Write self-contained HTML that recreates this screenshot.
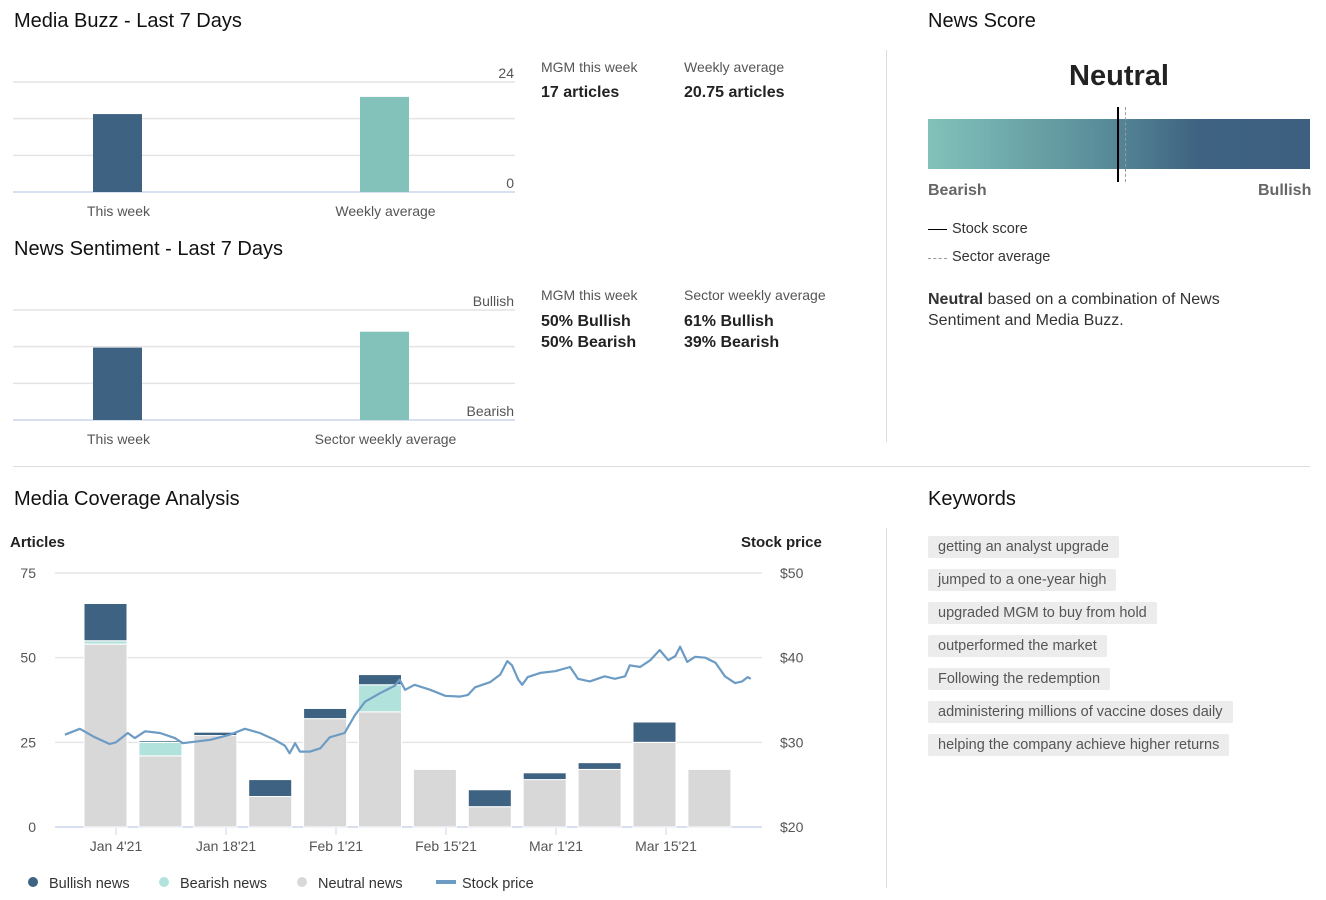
<!DOCTYPE html>
<html><head><meta charset="utf-8">
<style>
body{margin:0;width:1326px;height:900px;background:#fff;font-family:"Liberation Sans",sans-serif;color:#222;position:relative;overflow:hidden}
.a{position:absolute;white-space:nowrap}
h2{position:absolute;margin:0;font-size:20px;font-weight:normal;color:#111}
.lbl{font-size:14px;color:#555}
.val{font-size:16px;font-weight:bold;color:#222}
.pill{position:absolute;left:928px;height:22px;line-height:22px;background:#ececec;color:#555;font-size:14.5px;padding:0 10px;border-radius:2px}
svg text{font-family:"Liberation Sans",sans-serif}
</style></head><body>
<h2 style="left:14px;top:10px">Media Buzz - Last 7 Days</h2>
<svg class="a" style="left:0;top:55px" width="530" height="170" id="buzz"></svg>
<div class="a lbl" style="left:541px;top:59px">MGM this week</div>
<div class="a val" style="left:541px;top:84px">17 articles</div>
<div class="a lbl" style="left:684px;top:59px">Weekly average</div>
<div class="a val" style="left:684px;top:84px">20.75 articles</div>

<h2 style="left:14px;top:238px">News Sentiment - Last 7 Days</h2>
<svg class="a" style="left:0;top:283px" width="530" height="170" id="sent"></svg>
<div class="a lbl" style="left:541px;top:287px">MGM this week</div>
<div class="a val" style="left:541px;top:311px;line-height:21px">50% Bullish<br>50% Bearish</div>
<div class="a lbl" style="left:684px;top:287px">Sector weekly average</div>
<div class="a val" style="left:684px;top:311px;line-height:21px">61% Bullish<br>39% Bearish</div>

<div class="a" style="left:886px;top:50px;width:1px;height:392px;background:#ddd"></div>
<h2 style="left:928px;top:10px">News Score</h2>
<div class="a" style="left:928px;top:60px;width:382px;text-align:center;font-size:29px;font-weight:bold;color:#222">Neutral</div>
<div class="a" style="left:928px;top:119px;width:382px;height:50px;background:linear-gradient(90deg,#82c2ba 0%,#5a8d9a 45%,#3f6382 70%,#3d5f80 100%)"></div>
<div class="a" style="left:1117px;top:107px;width:1.5px;height:75px;background:#000"></div>
<div class="a" style="left:1125px;top:107px;width:0;height:75px;border-left:1px dashed #999"></div>
<div class="a" style="left:928px;top:182px;font-size:16px;font-weight:bold;color:#666">Bearish</div>
<div class="a" style="left:1258px;top:182px;font-size:16px;font-weight:bold;color:#666">Bullish</div>
<div class="a" style="left:928px;top:229px;width:19px;border-top:1.5px solid #000"></div>
<div class="a" style="left:952px;top:221px;font-size:14.5px;color:#333">Stock score</div>
<div class="a" style="left:928px;top:258px;width:19px;border-top:1px dashed #999"></div>
<div class="a" style="left:952px;top:249px;font-size:14.5px;color:#333">Sector average</div>
<div class="a" style="left:928px;top:289px;font-size:16px;line-height:21px;color:#333;white-space:normal;width:360px"><b>Neutral</b> based on a combination of News Sentiment and Media Buzz.</div>

<div class="a" style="left:13px;top:466px;width:1297px;height:1px;background:#ddd"></div>

<h2 style="left:14px;top:488px">Media Coverage Analysis</h2>
<div class="a" style="left:10px;top:534px;font-size:15px;font-weight:bold">Articles</div>
<div class="a" style="left:741px;top:534px;font-size:15px;font-weight:bold">Stock price</div>
<svg class="a" style="left:0;top:0" width="880" height="900" id="cov"></svg>

<div class="a" style="left:886px;top:528px;width:1px;height:360px;background:#ddd"></div>
<h2 style="left:928px;top:488px">Keywords</h2>
<div class="pill" style="top:536px">getting an analyst upgrade</div>
<div class="pill" style="top:569px">jumped to a one-year high</div>
<div class="pill" style="top:602px">upgraded MGM to buy from hold</div>
<div class="pill" style="top:635px">outperformed the market</div>
<div class="pill" style="top:668px">Following the redemption</div>
<div class="pill" style="top:701px">administering millions of vaccine doses daily</div>
<div class="pill" style="top:734px">helping the company achieve higher returns</div>

<script>
const NS="http://www.w3.org/2000/svg";
function mk(parent,tag,attrs,text){const e=document.createElementNS(NS,tag);for(const k in attrs)e.setAttribute(k,attrs[k]);if(text!=null)e.textContent=text;parent.appendChild(e);return e;}

// ---- Media buzz data ----
const buzzCategories=["This week","Weekly average"];
const buzzValues=[17,20.75];
const buzzTicks=["24","0"];
const buzzMax=24;
// ---- Sentiment data ----
const sentCategories=["This week","Sector weekly average"];
const sentValues=[50,61];
const sentMax=76;

function smallChart(svg,cats,vals,max,topLbl,botLbl,nm){
  const x0=13,x1=515,yTop=27,yBase=137,H=yBase-yTop;
  for(let i=0;i<3;i++){const y=yTop+i*H/3;const l=mk(svg,"line",{x1:x0,x2:x1,y1:y,y2:y,stroke:"#e4e4e4","stroke-width":1.5});
    }
  const b=mk(svg,"line",{x1:x0,x2:x1,y1:yBase,y2:yBase,stroke:"#ccd6eb","stroke-width":1.5});
  
  const colors=["#3e6282","#82c2ba"];
  const bw=267;
  cats.forEach((c,i)=>{const cx=117.5+bw*i;const h=vals[i]/max*H;
    const r=mk(svg,"rect",{x:cx-24.5,y:yBase-h,width:49,height:h,fill:colors[i]});
    
    const t=mk(svg,"text",{x:cx+1,y:yBase+24,"text-anchor":"middle","font-size":14,fill:"#555"},c);
    });
  const t1=mk(svg,"text",{x:x1-1,y:yTop-4,"text-anchor":"end","font-size":14,fill:"#555"},topLbl);
  
  const t2=mk(svg,"text",{x:x1-1,y:yBase-4,"text-anchor":"end","font-size":14,fill:"#555"},botLbl);
  
}
smallChart(document.getElementById("buzz"),buzzCategories,buzzValues,buzzMax,buzzTicks[0],buzzTicks[1],"buzz");
smallChart(document.getElementById("sent"),sentCategories,sentValues,sentMax,"Bullish","Bearish","sentiment");

// ---- Media coverage data ----
const weekLabels=["w1","w2","w3","w4","w5","w6","w7","w8","w9","w10","w11","w12"];
const neutralNews=[54,21,27,9,32,34,17,6,14,17,25,17];
const bearishNews=[1,4,0,0,0,8,0,0,0,0,0,0];
const bullishNews=[11,0.5,1,5,3,3,0,5,2,2,6,0];
const articleTicks=[0,25,50,75];
const priceTicks=[20,30,40,50];
const dateTickLabels=["Jan 4'21","Jan 18'21","Feb 1'21","Feb 15'21","Mar 1'21","Mar 15'21"];
const dateTickDays=[0,14,28,42,56,70];
const priceDays=[-6.5,-4.6,-2.7,-0.8,0,1.5,2.4,3.7,5.6,7.5,8.5,9.4,12,14.5,16.4,18.3,20.2,21.5,22.1,22.8,23.4,24.7,26,27.2,29.1,30.4,31.7,33.6,35.5,36.1,36.8,38,40,41.9,43.8,44.8,45.7,47.6,48.9,49.8,50.4,51.2,51.7,52.4,54,55.9,57.8,58.8,60.3,62.2,63.5,64.8,65.4,66.7,68,69.2,70.3,71.2,71.8,72.7,73.7,75,76.3,77.5,78.8,79.7,80.4,80.8];
const prices=[30.9,31.6,30.6,29.8,30.0,31.1,30.5,31.3,31.1,30.5,29.9,30.0,30.3,30.9,31.6,31.1,30.3,29.6,28.7,29.9,28.9,28.9,29.3,30.6,31.1,33.2,34.8,35.8,36.7,37.4,36.2,36.8,36.2,35.5,35.4,35.6,36.5,37.1,38.0,39.6,39.1,37.4,36.8,37.7,38.2,38.4,38.9,37.5,37.2,37.8,37.5,37.8,39.1,38.9,39.7,40.9,39.7,40.2,41.3,39.5,40.1,40.0,39.4,37.8,37.0,37.2,37.7,37.5];

const cov=document.getElementById("cov");
const PX0=55,PX1=762,Y0=827,Y75=573;
const yA=v=>Y0-(v/75)*(Y0-Y75);
const yP=p=>Y0-((p-20)/30)*(Y0-Y75);
const xBar=i=>105.5+i*54.9;
const xDay=d=>116+d*7.857;
articleTicks.forEach((t,i)=>{const y=yA(t);
  const l=mk(cov,"line",{x1:PX0,x2:PX1,y1:y,y2:y,stroke:i==0?"#ccd6eb":"#e6e6e6","stroke-width":1.5});
  
  const ta=mk(cov,"text",{x:36,y:y+5,"text-anchor":"end","font-size":14,fill:"#555"},String(t));
  
  const tp=mk(cov,"text",{x:780,y:y+5,"font-size":14,fill:"#555"},"$"+priceTicks[i]);
  });
dateTickLabels.forEach((lab,i)=>{const x=xDay(dateTickDays[i]);
  const l=mk(cov,"line",{x1:x,x2:x,y1:Y0,y2:Y0+8,stroke:"#ccd6eb","stroke-width":1});
  
  const t=mk(cov,"text",{x:x,y:Y0+24,"text-anchor":"middle","font-size":14,fill:"#555"},lab);
  });
weekLabels.forEach((w,i)=>{const cx=xBar(i);let base=0;
  [[neutralNews,"#d8d8d8","neutral"],[bearishNews,"#b2e2dc","bearish"],[bullishNews,"#3e6282","bullish"]].forEach(([arr,col,nm])=>{
    const v=arr[i];if(v<=0)return;
    const yt=yA(base+v),yb=yA(base);
    const r=mk(cov,"rect",{x:cx-21.5,y:yt,width:43,height:yb-yt,fill:col,stroke:"#fff","stroke-width":1});
    
    base+=v;});});
let d="";priceDays.forEach((dd,i)=>{d+=(i?"L":"M")+xDay(dd).toFixed(1)+","+yP(prices[i]).toFixed(1);});
const pl=mk(cov,"path",{d:d,fill:"none",stroke:"#6c9bc4","stroke-width":2.2,"stroke-linejoin":"round"});

// legend
const leg=[["Bullish news","#3e6282",33,"dot"],["Bearish news","#b2e2dc",164,"dot"],["Neutral news","#d8d8d8",302,"dot"],["Stock price","#6c9bc4",446,"line"]];
leg.forEach(([t,c,x,s])=>{
  const m=s=="dot"?mk(cov,"circle",{cx:x,cy:882,r:5,fill:c}):mk(cov,"rect",{x:x-10,y:880,width:20,height:4,fill:c});
  
  const tx=mk(cov,"text",{x:x+16,y:888,"font-size":14.5,fill:"#333"},t);
  });
</script>
</body></html>
